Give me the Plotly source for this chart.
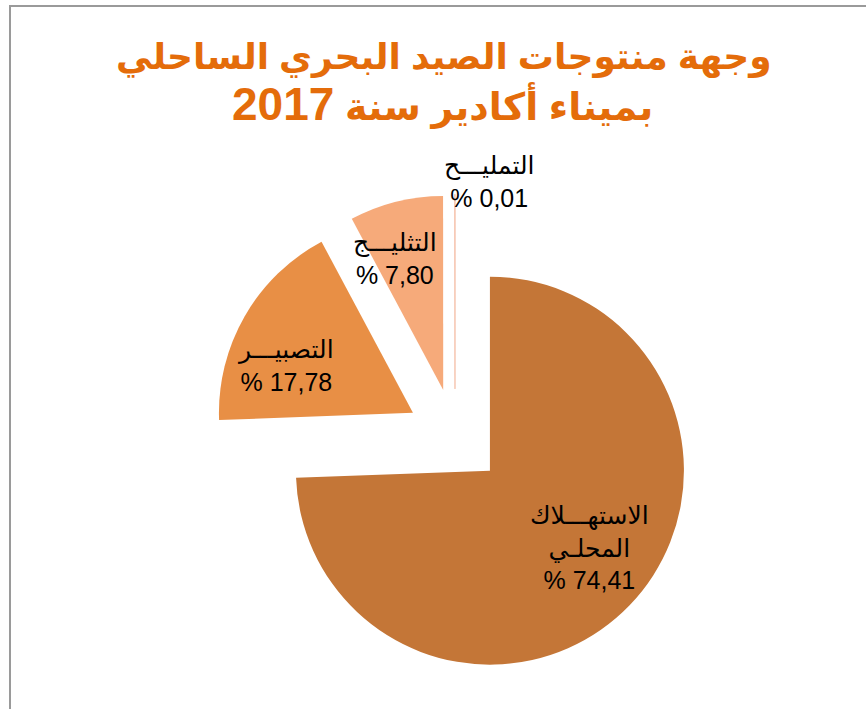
import math
import plotly.graph_objects as go

# ---- data ----
categories = ["الاستهـــلاك<br>المحلـي", "التصبيـــر", "التثليـــج", "التمليـــح"]
shares = [74.41, 17.78, 7.80, 0.01]
share_labels = ["% 74,41", "% 17,78", "% 7,80", "% 0,01"]
title_line1 = "وجهة منتوجات الصيد البحري الساحلي"
title_line2_text = "بميناء أكادير سنة"
title_year = "2017"

# ---- style ----
colors = ["#C47637", "#E88F45", "#F6AA7A", "#F4B9A0"]
title_color = "#E46C0A"
FONT = "Arial, 'Liberation Sans', 'DejaVu Sans', sans-serif"
W, H = 866, 709
CX, CY = 455, 437      # pie centre in pixels
R = 194                # pie radius in pixels
PULL = 0.25
label_angle_shift = [-6.3, -9.7, -6.0, 9.6]   # degrees relative to slice bisector
label_radius = [0.65, 0.70, 0.72, 1.08]       # in radii from slice centre

side = 2 * R * (1 + PULL)
dom_x = [(CX - side / 2) / W, (CX + side / 2) / W]
dom_y = [1 - (CY + side / 2) / H, 1 - (CY - side / 2) / H]

fig = go.Figure()
fig.add_trace(go.Pie(
    labels=categories,
    values=shares,
    sort=False,
    direction="clockwise",
    rotation=0,
    pull=[PULL] * len(shares),
    marker=dict(colors=colors,
                line=dict(color=colors, width=[0, 0, 0, 1.2])),
    textinfo="none",
    hoverinfo="label+percent",
    showlegend=False,
    domain=dict(x=dom_x, y=dom_y),
))

# label positions derived from the slice angles
total = sum(shares)
cum = 0.0
for i, v in enumerate(shares):
    mid = (cum + v / 2) / total * 360.0
    cum += v
    a = math.radians(mid)
    scx = CX + PULL * R * math.sin(a)
    scy = CY - PULL * R * math.cos(a)
    la = math.radians(mid + label_angle_shift[i])
    px = scx + label_radius[i] * R * math.sin(la)
    py = scy - label_radius[i] * R * math.cos(la)
    fig.add_annotation(
        x=px / W, y=1 - py / H, xref="paper", yref="paper",
        xanchor="center", yanchor="middle",
        text=categories[i] + "<br>" + share_labels[i],
        showarrow=False, align="center",
        font=dict(size=25, color="#000000", family=FONT),
    )

# title (two lines)
fig.add_annotation(
    x=444 / W, y=1 - 57 / H, xref="paper", yref="paper",
    xanchor="center", yanchor="middle", showarrow=False,
    text="<b>" + title_line1 + "</b>",
    font=dict(size=36, color=title_color, family=FONT),
)
fig.add_annotation(
    x=443 / W, y=1 - 104 / H, xref="paper", yref="paper",
    xanchor="center", yanchor="middle", showarrow=False,
    text="<b>" + title_line2_text + " <span style='font-size:46px'>" + title_year + "</span></b>",
    font=dict(size=38, color=title_color, family=FONT),
)

fig.update_layout(
    width=W, height=H,
    margin=dict(l=0, r=0, t=0, b=0),
    paper_bgcolor="white",
    plot_bgcolor="white",
    shapes=[dict(type="rect", xref="paper", yref="paper",
                 x0=10 / W, x1=1.05, y0=-0.05, y1=1 - 6 / H,
                 line=dict(color="#9A9A9A", width=2), fillcolor="rgba(0,0,0,0)",
                 layer="above")],
)

fig.write_html("out.html",
               config={"displayModeBar": False},
               post_script="document.body.style.margin='0';document.body.style.overflow='hidden';")
